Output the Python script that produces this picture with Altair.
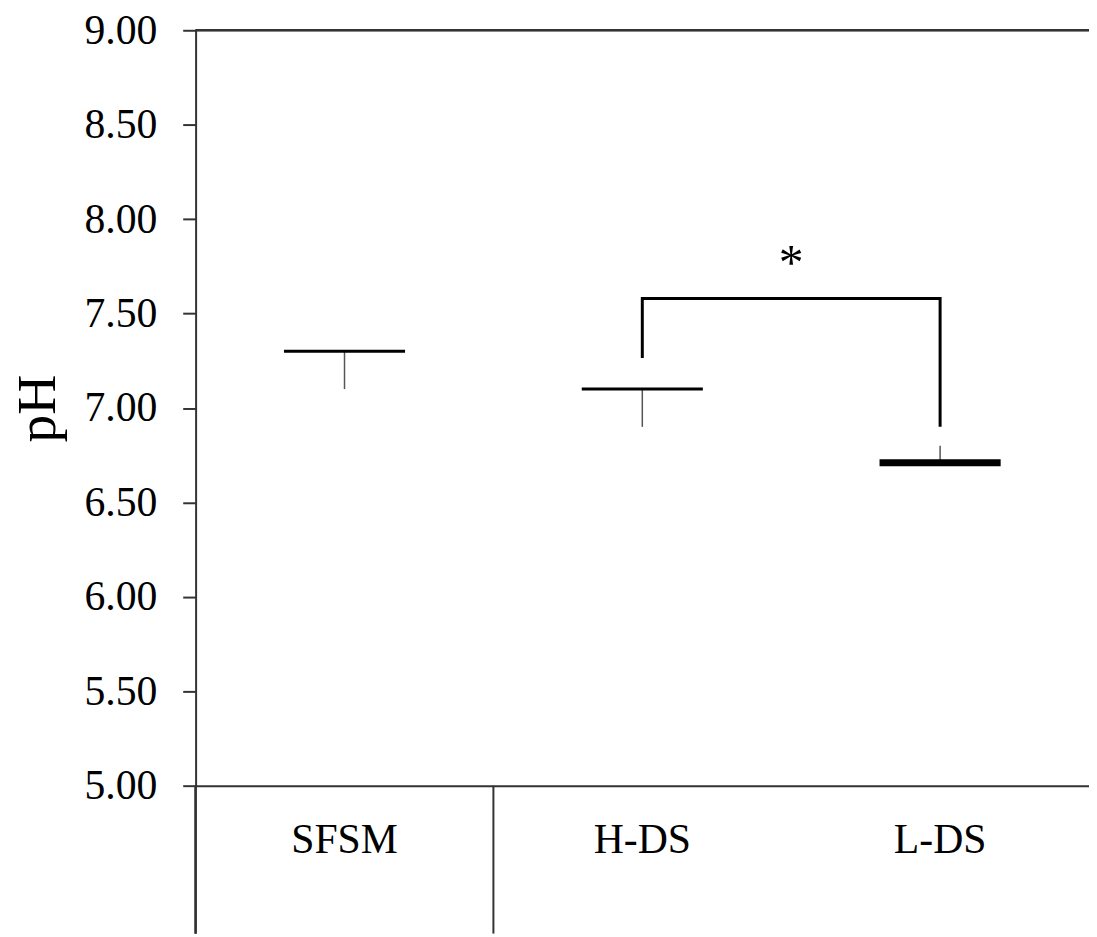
import altair as alt
import pandas as pd

categories = ["SFSM", "H-DS", "L-DS"]
means = [7.30, 7.10, 6.71]
err_ends = [7.10, 6.90, 6.80]

bracket_x = ["H-DS", "H-DS", "L-DS", "L-DS"]
bracket_y = [7.265, 7.58, 7.58, 6.90]
bracket_order = [0, 1, 2, 3]

y_ticks = [5.0, 5.5, 6.0, 6.5, 7.0, 7.5, 8.0, 8.5, 9.0]

W, H = 900, 761
FONT = "Liberation Serif"

df = pd.DataFrame({"cat": categories, "mean": means, "err": err_ends})
br = pd.DataFrame({"cat": bracket_x, "y": bracket_y, "o": bracket_order})
star = pd.DataFrame({"cat": ["L-DS"], "y": [7.76], "t": ["*"]})
sep = pd.DataFrame({"cat": ["H-DS"]})

xscale = alt.Scale(domain=categories, range=[0, 900], paddingInner=0, paddingOuter=0)
yscale = alt.Scale(domain=[5, 9], nice=False, zero=False)

xenc = alt.X("cat:N", scale=xscale, sort=categories,
             axis=alt.Axis(title=None, ticks=False, labelAngle=0, labelFont=FONT,
                           labelFontSize=42, labelColor="black", labelPadding=34,
                           domainColor="#333", domainWidth=2))
yenc = alt.Y("mean:Q", scale=yscale,
             axis=alt.Axis(title="pH", values=y_ticks, format=".2f", grid=False,
                           labelFont=FONT, labelFontSize=42, labelColor="black",
                           labelPadding=26, tickSize=13, tickColor="#333", tickWidth=2,
                           domainColor="#333", domainWidth=2,
                           titleFont=FONT, titleFontSize=56, titleFontWeight="normal",
                           titleColor="black", titlePadding=18))

base = alt.Chart(df)

err = base.mark_rule(color="#555", strokeWidth=1.5).encode(
    x=xenc, y=yenc, y2="err:Q")

mean_thin = base.mark_tick(color="black", thickness=3, size=122, opacity=1).encode(
    x=xenc, y=yenc).transform_filter(alt.datum.cat != "L-DS")
mean_thick = base.mark_tick(color="black", thickness=7, size=122, opacity=1).encode(
    x=xenc, y=yenc).transform_filter(alt.datum.cat == "L-DS")

bracket = alt.Chart(br).mark_line(color="black", strokeWidth=3, strokeJoin="miter").encode(
    x=alt.X("cat:N", scale=xscale, sort=categories),
    y=alt.Y("y:Q", scale=yscale),
    order="o:Q")

star_t = alt.Chart(star).mark_text(font=FONT, fontSize=50, color="black", baseline="middle").encode(
    x=alt.X("cat:N", scale=xscale, sort=categories, bandPosition=0),
    y=alt.Y("y:Q", scale=yscale),
    text="t:N")

top_line = alt.Chart(df).mark_rule(color="#333", strokeWidth=2).encode(y=alt.datum(9))

left_ext = alt.Chart(df).mark_rule(color="#333", strokeWidth=2).encode(
    x=alt.value(0), y=alt.value(H), y2=alt.value(910))

sep_line = alt.Chart(sep).mark_rule(color="#333", strokeWidth=2).encode(
    x=alt.X("cat:N", scale=xscale, sort=categories, bandPosition=0),
    y=alt.value(H), y2=alt.value(910))

chart = alt.layer(err, mean_thin, mean_thick, bracket, star_t, top_line, left_ext, sep_line).properties(
    width=W, height=H, background="white",
    autosize=alt.AutoSizeParams(type="none"),
    padding={"left": 189, "top": 19, "right": 0, "bottom": 149}
).configure_view(stroke=None)

chart.save("out.html", embed_options={"renderer": "svg", "actions": False})
